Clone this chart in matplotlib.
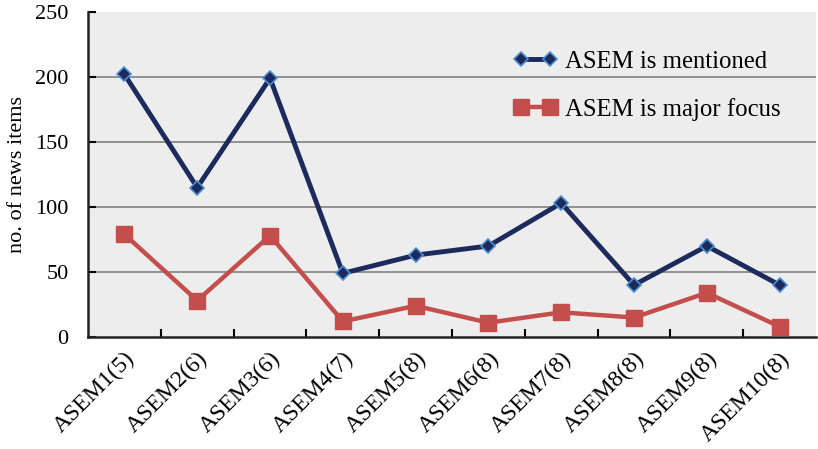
import numpy as np
import matplotlib
matplotlib.use("Agg")
import matplotlib.pyplot as plt

# values
categories = ["ASEM1(5)", "ASEM2(6)", "ASEM3(6)", "ASEM4(7)", "ASEM5(8)",
              "ASEM6(8)", "ASEM7(8)", "ASEM8(8)", "ASEM9(8)", "ASEM10(8)"]
mentioned = [202, 115, 199, 49, 63, 70, 103, 40, 70, 40]
major_focus = [79, 28, 78, 12, 24, 11, 19, 15, 34, 8]
yticks = [0, 50, 100, 150, 200, 250]

plt.rcParams['font.family'] = ['Liberation Serif', 'DejaVu Serif']

fig = plt.figure(figsize=(8.18, 4.49), dpi=100)
ax = fig.add_axes([0.1076, 0.2494, 0.8900, 0.7239])
ax.set_facecolor("#ededed")

x = np.arange(len(categories))
ax.plot(x, mentioned, color="#1c2a5c", lw=3.5, marker="D", ms=7,
        mfc="#1c2a5c", mec="#4f8fd0", mew=1.2, label="ASEM is mentioned", zorder=3)
ax.plot(x, major_focus, color="#c44e4b", lw=3.2, marker="s", ms=11.5,
        mfc="#c44e4b", mec="#c44e4b", label="ASEM is major focus", zorder=3)

ax.set_xlim(-0.5, len(categories) - 0.5)
ax.set_ylim(0, 250)
ax.set_yticks(yticks)
for v in yticks[1:-1]:
    ax.axhline(v, color="#808080", lw=1.2, zorder=1)

# category ticks sit at the boundaries, labels at the centres
ax.set_xticks(np.arange(0.5, len(categories) - 0.5), minor=False)
ax.set_xticklabels([])
ax.set_xticks(x, minor=True)
ax.set_xticklabels(categories, minor=True, rotation=45, ha="right",
                   rotation_mode="anchor", fontsize=17)
ax.tick_params(axis="x", which="minor", length=0, pad=8)
ax.tick_params(axis="x", which="major", direction="in", length=6, width=1.5)
ax.tick_params(axis="y", direction="in", length=6, width=1.5, labelsize=16, pad=14)

for s in ["top", "right"]:
    ax.spines[s].set_visible(False)
for s in ["left", "bottom"]:
    ax.spines[s].set_linewidth(1.8)
    ax.spines[s].set_color("#222222")

ax.set_ylabel("no. of news items", fontsize=16, labelpad=6)

ax.legend(loc="upper right", bbox_to_anchor=(0.982, 0.95), frameon=False,
          fontsize=17.8, numpoints=2, handlelength=1.8, labelspacing=1.0,
          handletextpad=0.3)

fig.savefig("out.png", dpi=100)
